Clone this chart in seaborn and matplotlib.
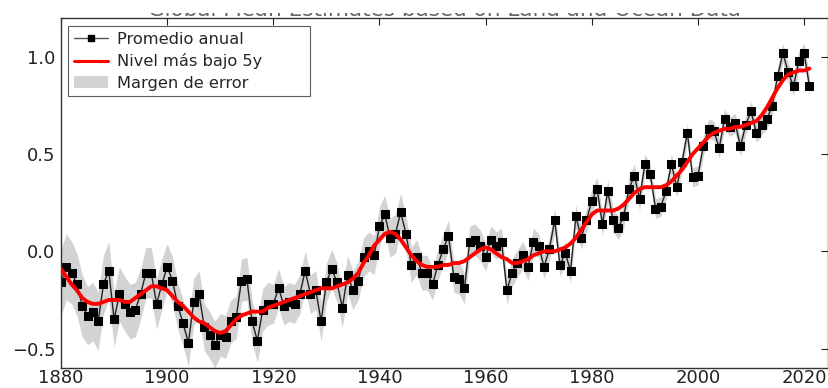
import numpy as np
import pandas as pd
import matplotlib
matplotlib.use("Agg")
import matplotlib.pyplot as plt
import seaborn as sns
from matplotlib.patches import Patch, Rectangle
from matplotlib.lines import Line2D

# --- datos: anomalía de temperatura global (°C), 1880-2021 ---
years = list(range(1880, 2022))

annual = [
    -0.16, -0.08, -0.11, -0.17, -0.28, -0.33, -0.31, -0.36, -0.17, -0.10,
    -0.35, -0.22, -0.27, -0.31, -0.30, -0.22, -0.11, -0.11, -0.27, -0.17,
    -0.08, -0.15, -0.28, -0.37, -0.47, -0.26, -0.22, -0.39, -0.43, -0.48,
    -0.43, -0.44, -0.36, -0.34, -0.15, -0.14, -0.36, -0.46, -0.30, -0.27,
    -0.27, -0.19, -0.28, -0.26, -0.27, -0.22, -0.10, -0.22, -0.20, -0.36,
    -0.16, -0.09, -0.16, -0.29, -0.12, -0.20, -0.15, -0.03, -0.00, -0.02,
    0.13, 0.19, 0.07, 0.09, 0.20, 0.09, -0.07, -0.03, -0.11, -0.11,
    -0.17, -0.07, 0.01, 0.08, -0.13, -0.14, -0.19, 0.05, 0.06, 0.03,
    -0.03, 0.06, 0.03, 0.05, -0.20, -0.11, -0.06, -0.02, -0.08, 0.05,
    0.03, -0.08, 0.01, 0.16, -0.07, -0.01, -0.10, 0.18, 0.07, 0.16,
    0.26, 0.32, 0.14, 0.31, 0.16, 0.12, 0.18, 0.32, 0.39, 0.27,
    0.45, 0.40, 0.22, 0.23, 0.31, 0.45, 0.33, 0.46, 0.61, 0.38,
    0.39, 0.54, 0.63, 0.62, 0.53, 0.68, 0.64, 0.66, 0.54, 0.65,
    0.72, 0.61, 0.65, 0.68, 0.75, 0.90, 1.02, 0.92, 0.85, 0.98,
    1.02, 0.85,
]

lowess5 = [
    -0.09, -0.13, -0.17, -0.20, -0.24, -0.26, -0.27, -0.27, -0.26, -0.25,
    -0.25, -0.25, -0.26, -0.26, -0.24, -0.22, -0.20, -0.18, -0.18, -0.19,
    -0.20, -0.23, -0.26, -0.28, -0.31, -0.34, -0.36, -0.37, -0.39, -0.41,
    -0.42, -0.41, -0.38, -0.35, -0.33, -0.32, -0.31, -0.31, -0.31, -0.29,
    -0.28, -0.27, -0.26, -0.25, -0.24, -0.23, -0.22, -0.21, -0.20, -0.19,
    -0.19, -0.19, -0.18, -0.17, -0.16, -0.14, -0.11, -0.06, -0.02, 0.03,
    0.06, 0.09, 0.10, 0.09, 0.06, 0.02, -0.02, -0.05, -0.07, -0.08,
    -0.08, -0.08, -0.07, -0.07, -0.06, -0.06, -0.05, -0.03, -0.01, 0.01,
    0.02, 0.01, -0.01, -0.03, -0.04, -0.06, -0.06, -0.05, -0.04, -0.02,
    -0.01, 0.00, 0.00, 0.00, 0.01, 0.02, 0.04, 0.07, 0.11, 0.15,
    0.19, 0.21, 0.21, 0.21, 0.21, 0.22, 0.24, 0.27, 0.30, 0.32,
    0.33, 0.33, 0.33, 0.33, 0.34, 0.36, 0.39, 0.42, 0.46, 0.50,
    0.53, 0.56, 0.59, 0.61, 0.62, 0.63, 0.63, 0.64, 0.64, 0.65,
    0.66, 0.67, 0.70, 0.74, 0.79, 0.84, 0.88, 0.91, 0.92, 0.93,
    0.93, 0.94,
]

# margen de error (+/-) por año
error = [
    0.17, 0.17, 0.16, 0.16, 0.16, 0.15, 0.15, 0.15, 0.15, 0.15,
    0.14, 0.14, 0.14, 0.14, 0.14, 0.13, 0.13, 0.13, 0.13, 0.13,
    0.12, 0.12, 0.12, 0.12, 0.12, 0.12, 0.12, 0.12, 0.12, 0.12,
    0.11, 0.11, 0.11, 0.11, 0.11, 0.11, 0.11, 0.11, 0.11, 0.11,
    0.10, 0.10, 0.10, 0.10, 0.10, 0.10, 0.10, 0.10, 0.10, 0.10,
    0.10, 0.10, 0.10, 0.10, 0.10, 0.10, 0.10, 0.10, 0.10, 0.10,
    0.10, 0.10, 0.10, 0.10, 0.10, 0.09, 0.09, 0.09, 0.09, 0.09,
    0.08, 0.08, 0.08, 0.08, 0.08, 0.08, 0.08, 0.08, 0.08, 0.08,
    0.07, 0.07, 0.07, 0.07, 0.07, 0.07, 0.07, 0.07, 0.07, 0.07,
    0.06, 0.06, 0.06, 0.06, 0.06, 0.06, 0.06, 0.06, 0.06, 0.06,
    0.06, 0.06, 0.06, 0.06, 0.06, 0.06, 0.06, 0.06, 0.06, 0.06,
    0.05, 0.05, 0.05, 0.05, 0.05, 0.05, 0.05, 0.05, 0.05, 0.05,
    0.05, 0.05, 0.05, 0.05, 0.05, 0.05, 0.05, 0.05, 0.05, 0.05,
    0.05, 0.05, 0.05, 0.05, 0.05, 0.05, 0.05, 0.05, 0.05, 0.05,
    0.05, 0.05,
]

df = pd.DataFrame({"year": years, "annual": annual, "lowess": lowess5, "err": error})
df["low"] = df["annual"] - df["err"]
df["high"] = df["annual"] + df["err"]

# --- gráfico ---
sns.set_style("white")
plt.rcParams["font.family"] = ["DejaVu Sans"]

fig = plt.figure(figsize=(8.29, 3.88), dpi=100)
ax = fig.add_axes([0.0736, 0.0515, 0.9252, 0.9021])

ax.fill_between(df["year"], df["low"], df["high"], color="#d3d3d3", linewidth=0, zorder=1)
sns.lineplot(data=df, x="year", y="annual", ax=ax, color="#222222", linewidth=1,
             marker="s", markersize=6, markerfacecolor="black", markeredgecolor="black",
             zorder=2)
sns.lineplot(data=df, x="year", y="lowess", ax=ax, color="red", linewidth=2.8, zorder=3)

ax.set_xlim(1880, 2024.5)
ax.set_ylim(-0.6, 1.2)
ax.set_xticks([1880, 1900, 1920, 1940, 1960, 1980, 2000, 2020])
ax.set_yticks([-0.5, 0.0, 0.5, 1.0])
ax.set_xlabel("")
ax.set_ylabel("")
ax.tick_params(direction="in", top=True, right=True, length=5, width=0.8,
               labelsize=13, colors="#222222")
ax.tick_params(axis="x", pad=1)
ax.tick_params(axis="y", pad=4)
for s in ax.spines.values():
    s.set_color("#333333")
    s.set_linewidth(1)

# título: en el original sólo se ve el borde inferior (imagen recortada)
ax.set_title("Global Mean Estimates based on Land and Ocean Data", fontsize=15.5,
             color="#666666", pad=1.5)
fig.add_artist(Rectangle((0, 1 - 13 / 388), 1, 13 / 388, transform=fig.transFigure,
                         facecolor="white", edgecolor="none", zorder=10))

handles = [
    Line2D([], [], color="#555555", linewidth=1, marker="s", markersize=5,
           markerfacecolor="black", markeredgecolor="black"),
    Line2D([], [], color="red", linewidth=2.2),
    Patch(facecolor="#d3d3d3", edgecolor="none"),
]
labels = ["Promedio anual", "Nivel más bajo 5y", "Margen de error"]
leg = ax.legend(handles, labels, loc="upper left", mode="expand",
                bbox_to_anchor=(0.009, 0.5, 0.3155, 0.477), borderaxespad=0,
                fontsize=11.7, frameon=True, fancybox=False, edgecolor="#333333",
                handlelength=2.1, handletextpad=0.55, labelspacing=0.4,
                borderpad=0.35)
leg.get_frame().set_linewidth(0.8)

fig.savefig("out.png", dpi=100)
